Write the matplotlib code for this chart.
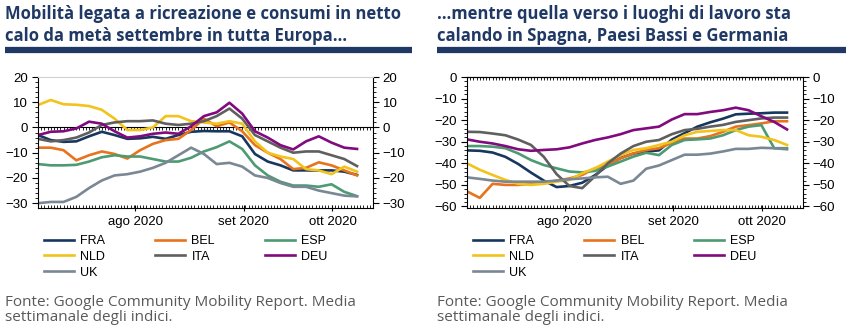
import matplotlib.pyplot as plt
import numpy as np

# day index (0 = early July 2020), one reading every 4 days
days = np.arange(0, 101, 4)

# left panel: retail & recreation (%)
fra_r = [-3, -5, -5.7, -5.5, -3.5, -1.7, -3, -4.5, -4.3, -3.7, -4.5, -3, -1.7, -1.4, -1.5, -1.5,
         -3.5, -10.5, -13.5, -15, -17, -17, -17, -17, -17.5, -18.8]
bel_r = [-8, -8, -9, -13, -11, -9.5, -10.5, -12.3, -9, -6.5, -5, -4.5, -1, 3.5, 0.5, 2,
         -1.5, -7, -10, -12.5, -16.5, -16, -13.8, -15, -17, -19]
esp_r = [-14.5, -15, -15, -14.8, -13.5, -11.8, -11, -11.5, -11.5, -12.5, -13.5, -13.5, -12, -9.5, -7.8, -5.5,
         -8.5, -15, -19, -21.5, -23, -23, -23.5, -22.5, -25.5, -27.2]
nld_r = [8.9, 10.9, 9.2, 9, 8.5, 7, 3.5, -1, -1, 0, 4.5, 4.5, 2.5, 2, 1.5, 2.5,
         1.5, -5.5, -10, -11.5, -12.5, -16.5, -17, -18.5, -15.5, -17.5]
ita_r = [-4.5, -5.5, -5, -4, -2, 1, 2, 2.5, 2.5, 2.8, 1.5, 1, 1.5, 2.5, 4.5, 7.5,
         3.5, -3, -5.5, -8, -10, -9.5, -9.5, -11, -12.5, -15.3]
deu_r = [-3, -1.7, -1.5, -0.4, 2.3, 1.5, -1.5, -4, -3.5, -2.5, -2, -2.5, 0.5, 4.5, 6, 9.8,
         5.5, -1.5, -4, -7, -8.7, -5.5, -3.5, -6, -8, -8.5]
uk_r = [-30, -29.5, -29.5, -27.5, -24, -21, -19, -18.5, -17.5, -16, -14, -11, -8, -10.5, -14.5, -14,
        -15.5, -19, -20, -22, -23.5, -23.5, -25, -26, -27, -27.3]

# right panel: workplaces (%)
fra_w = [-34, -34.2, -35, -37, -40.3, -44.3, -48, -51, -50.5, -49, -45.5, -41, -37.5, -35.5, -34.5, -34,
         -29, -26, -23, -21, -19.3, -17.3, -17, -16.8, -16.5, -16.5]
bel_w = [-53, -56, -49.5, -50, -50, -49.5, -49.2, -48, -47, -45.4, -42.3, -40.8, -37.7, -35.4, -33.8, -33,
         -30.5, -28.5, -28.5, -27.4, -25.4, -23, -22.3, -21.5, -20.5, -20.5]
esp_w = [-32, -32, -32.3, -33, -35.4, -38.5, -40.8, -42.3, -43.8, -44.2, -43.5, -41.5, -39.2, -36.9, -35.1, -36.2,
         -31.5, -29.2, -28.9, -28.5, -27, -24.6, -23, -22.3, -33, -33]
nld_w = [-40, -43, -45.4, -47.7, -49.5, -50, -49.5, -48.5, -47.7, -44.6, -42.3, -39.2, -36.2, -33.8, -33, -31.5,
         -30, -27, -25.4, -25, -24.6, -24.6, -27, -27.7, -29.2, -31.5]
ita_w = [-25.4, -25.5, -26.2, -27, -29, -31.5, -37, -45, -50.5, -51.5, -46, -40, -35.5, -32, -30, -29.2,
         -26.5, -24.6, -24, -23, -22.2, -20.8, -20, -19.2, -18.8, -18.8]
deu_w = [-28.9, -30, -30.8, -32, -33.5, -34.2, -33.8, -33.5, -32.6, -30.8, -29.2, -28, -26.5, -24.6, -23.8, -23,
         -19.7, -17.2, -17.2, -16.2, -15.4, -14.2, -15.4, -18.2, -20.8, -24.3]
uk_w = [-46.5, -47.2, -48, -48.5, -48.5, -48.5, -48.5, -48, -47.4, -47, -46.5, -46.2, -49.5, -48, -42.5, -41,
        -38.5, -36, -36, -35.5, -34.5, -33.3, -33.3, -32.8, -33, -33.5]

names = ['FRA', 'BEL', 'ESP', 'NLD', 'ITA', 'DEU', 'UK']
colors = ['#17375E', '#E8731E', '#4E9A72', '#F2C31C', '#5F5F5F', '#800A7E', '#7A8794']
month_pos = [30.5, 64.5, 92.3]
month_lab = ['ago 2020', 'set 2020', 'ott 2020']

titles = ['Mobilità legata a ricreazione e consumi in netto\ncalo da metà settembre in tutta Europa…',
          '…mentre quella verso i luoghi di lavoro sta\ncalando in Spagna, Paesi Bassi e Germania']
note = 'Fonte: Google Community Mobility Report. Media\nsettimanale degli indici.'

navy = '#1F3864'
W, H = 852, 332
fig = plt.figure(figsize=(W / 100, H / 100), dpi=100)
plt.rcParams['font.family'] = ['Liberation Sans', 'DejaVu Sans']


def fx(px):
    return px / W


def fy(py):
    return 1 - py / H


panels = [
    dict(data=[fra_r, bel_r, esp_r, nld_r, ita_r, deu_r, uk_r], x0=38, x1=373, ylim=(-31.9, 20),
         yt=np.arange(-30, 21, 10), zero=True, tx=5, rule=(5, 412), leg=44),
    dict(data=[fra_w, bel_w, esp_w, nld_w, ita_w, deu_w, uk_w], x0=467, x1=803, ylim=(-60.7, 0),
         yt=np.arange(-60, 1, 10), zero=False, tx=437, rule=(437, 846), leg=473),
]

for k, p in enumerate(panels):
    ax = fig.add_axes([fx(p['x0']), fy(208), fx(p['x1'] - p['x0']), (208 - 77) / H])
    handles = []
    for vals, c, n in zip(p['data'], colors, names):
        ln, = ax.plot(days, vals, color=c, lw=1.9, label=n, solid_joinstyle='round')
        handles.append(ln)
    ax.set_xlim(0, 105)
    ax.set_ylim(*p['ylim'])
    ax.set_yticks(p['yt'])
    ax.set_yticks(np.arange(p['yt'][0], p['yt'][-1] + 0.1, 2), minor=True)
    ax.tick_params(axis='y', which='both', direction='out', labelsize=9.5, right=True,
                   labelright=True, pad=3)
    ax.tick_params(axis='y', which='major', length=4)
    ax.tick_params(axis='y', which='minor', length=2)
    ax.set_xticks(month_pos)
    ax.set_xticklabels(month_lab)
    ax.set_xticks(np.arange(0, 106, 1), minor=True)
    ax.tick_params(axis='x', which='major', length=4, direction='inout', labelsize=9.5, pad=4)
    ax.tick_params(axis='x', which='minor', length=2, direction='in')
    for s in ax.spines.values():
        s.set_color('black')
        s.set_linewidth(0.8)
    if p['zero']:
        ax.spines['top'].set_color('#d0d0d0')
        ax.axhline(0, color='black', lw=0.8, zorder=1)
        frac = (0 - p['ylim'][0]) / (p['ylim'][1] - p['ylim'][0])
        sec = ax.secondary_xaxis(frac)
        sec.set_xticks([])
        sec.set_xticks(np.arange(0, 106, 1), minor=True)
        sec.tick_params(which='minor', length=2, direction='in', color='black')
        sec.spines['top'].set_visible(False)
        sec.spines['bottom'].set_visible(False)
    else:
        sec = ax.secondary_xaxis('top')
        sec.set_xticks([])
        sec.set_xticks(np.arange(0, 106, 1), minor=True)
        sec.tick_params(which='minor', length=2, direction='in')

    # title and rule
    fig.text(fx(p['tx']), fy(5), titles[k], ha='left', va='top',
             fontsize=12, fontweight='bold', color=navy, family=['Open Sans', 'DejaVu Sans'],
             linespacing=1.3)
    fig.add_artist(plt.Line2D([fx(p['rule'][0]), fx(p['rule'][1])], [fy(50), fy(50)],
                              color=navy, lw=4.5, solid_capstyle='butt'))

    order = [0, 3, 6, 1, 4, 2, 5]
    fig.legend([handles[i] for i in order], [names[i] for i in order], ncol=3,
               loc='upper left', bbox_to_anchor=(fx(p['leg']), fy(235)), frameon=False,
               fontsize=9, handlelength=2.4, handletextpad=0.5, columnspacing=4.0,
               labelspacing=0.3, borderpad=0, borderaxespad=0)

    fig.text(fx(p['tx']), fy(295), note, ha='left', va='top',
             fontsize=11, color='#595959', family=['Open Sans', 'DejaVu Sans'], linespacing=1.0)

fig.savefig('out.png', dpi=100, facecolor='white')
